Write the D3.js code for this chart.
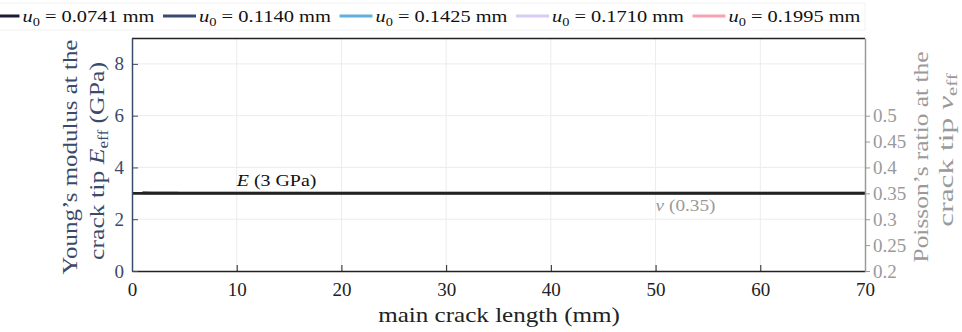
<!DOCTYPE html>
<html>
<head>
<meta charset="utf-8">
<script src="https://cdn.jsdelivr.net/npm/d3@7"></script>
<style>
  html, body { margin: 0; padding: 0; background: #fff; }
  svg { display: block; font-family: "Liberation Serif", "DejaVu Serif", serif; }
</style>
</head>
<body>
<svg id="chart" width="962" height="332"></svg>
<script>
// Displacement amplitudes (mm) for each loading case
const u0Values = [0.0741, 0.1140, 0.1425, 0.1710, 0.1995];
const seriesColors = ["#1d1b36", "#3a4a70", "#5fb0dc", "#d8ccf7", "#f7a3b4"];

// Effective Young's modulus at the crack tip (GPa) vs main crack length (mm)
const lengthA = [1.0, 2.0, 5.0, 10, 20, 30, 40, 50, 60, 70];
const modulusA = [3.00, 3.00, 3.00, 3.00, 3.00, 3.00, 3.00, 3.00, 3.00, 3.00];
const lengthB = [1.0, 2.0, 5.0, 10, 20, 30, 40, 50, 60, 70];
const modulusB = [3.05, 3.04, 3.04, 3.04, 3.04, 3.04, 3.04, 3.04, 3.04, 3.04];
const lengthC = [2.0, 3.0, 5.0, 10, 20, 30, 40, 50, 60, 70];
const modulusC = [3.04, 3.04, 3.04, 3.04, 3.04, 3.04, 3.04, 3.04, 3.04, 3.04];
const lengthD = [4.4, 6.0, 10, 20, 30, 40, 50, 60, 70];
const modulusD = [3.04, 3.04, 3.04, 3.04, 3.04, 3.04, 3.04, 3.04, 3.04];
const lengthE = [4.6, 6.0, 10, 20, 30, 40, 50, 60, 70];
const modulusE = [3.04, 3.04, 3.04, 3.04, 3.04, 3.04, 3.04, 3.04, 3.04];

const seriesLengths = [lengthA, lengthB, lengthC, lengthD, lengthE];
const seriesModulus = [modulusA, modulusB, modulusC, modulusD, modulusE];

// Bulk material reference values
const refModulus = 3;      // GPa
const refPoisson = 0.35;

// Tick values
const xTicks = [0, 10, 20, 30, 40, 50, 60, 70];
const leftTicks = [0, 2, 4, 6, 8];
const rightTicks = [0.2, 0.25, 0.3, 0.35, 0.4, 0.45, 0.5];

const svg = d3.select("#chart");
const plotL = 132, plotR = 865, plotT = 38, plotB = 271;

const x = d3.scaleLinear().domain([0, 70]).range([plotL, plotR]);
const yL = d3.scaleLinear().domain([0, 9]).range([plotB, plotT]);
const yR = d3.scaleLinear().domain([0.2, 0.65]).range([plotB, plotT]);

const slate = "#3b4a6b", grey = "#9a9a9a", ink = "#222";
const tickFont = 19;

// Places a text at (tx, ty) with optional rotation and widens it to a set width,
// so the serif face runs as wide as the TeX-style lettering.
function label(tx, ty, rot, anchor, size, fill, width, build) {
  const g = svg.append("g").attr("transform", `translate(${tx},${ty}) rotate(${rot})`);
  const t = g.append("text").attr("x", 0).attr("y", 0)
    .attr("text-anchor", anchor).attr("font-size", size).attr("fill", fill);
  build(t);
  const w = t.node().getBBox().width;
  if (w > 0) t.attr("transform", `scale(${width / w},1)`);
  return t;
}

// grid
const grid = svg.append("g");
grid.selectAll("line.vx").data(xTicks.slice(1, -1)).join("line")
  .attr("x1", d => x(d)).attr("x2", d => x(d)).attr("y1", plotT).attr("y2", plotB)
  .attr("stroke", "#ececec").attr("stroke-width", 1);
grid.selectAll("line.hy").data(leftTicks.slice(1)).join("line")
  .attr("x1", plotL).attr("x2", plotR).attr("y1", d => yL(d)).attr("y2", d => yL(d))
  .attr("stroke", "#ececec").attr("stroke-width", 1);

// data curves
const line = d3.line().x(d => x(d[0])).y(d => yL(d[1]));
seriesLengths.forEach((xs, i) => {
  const pts = xs.map((v, k) => [v, seriesModulus[i][k]]);
  svg.append("path").datum(pts).attr("d", line)
    .attr("fill", "none").attr("stroke", seriesColors[i]).attr("stroke-width", 1.6);
});

// reference lines
svg.append("line").attr("x1", x(0)).attr("x2", x(70))
  .attr("y1", yR(refPoisson)).attr("y2", yR(refPoisson))
  .attr("stroke", grey).attr("stroke-width", 1.5);
svg.append("line").attr("x1", x(0)).attr("x2", x(70))
  .attr("y1", yL(refModulus)).attr("y2", yL(refModulus))
  .attr("stroke", ink).attr("stroke-width", 2.6);

// annotations
label(x(10), yL(refModulus) - 7, 0, "start", 17, "#111", 81, t => {
  t.append("tspan").attr("font-style", "italic").text("E");
  t.append("tspan").text(" (3 GPa)");
});
label(x(50), yR(refPoisson) + 18, 0, "start", 17, grey, 60, t => {
  t.append("tspan").attr("font-style", "italic").text("ν");
  t.append("tspan").text(" (0.35)");
});

// frame top
svg.append("line").attr("x1", plotL).attr("x2", plotR).attr("y1", plotT + 0.5).attr("y2", plotT + 0.5)
  .attr("stroke", ink).attr("stroke-width", 1.5);

// bottom axis
const gx = svg.append("g").attr("transform", `translate(0,${plotB})`)
  .call(d3.axisBottom(x).tickValues(xTicks).tickSizeInner(-6).tickSizeOuter(0).tickPadding(12));
gx.select(".domain").attr("stroke", ink).attr("stroke-width", 1.5);
gx.selectAll(".tick line").attr("stroke", ink);
gx.selectAll(".tick text").attr("font-size", tickFont).attr("fill", ink)
  .attr("font-family", "Liberation Serif");

// left axis
const gl = svg.append("g").attr("transform", `translate(${plotL},0)`)
  .call(d3.axisLeft(yL).tickValues(leftTicks).tickSizeInner(-6).tickSizeOuter(0).tickPadding(8));
gl.select(".domain").attr("stroke", slate).attr("stroke-width", 1.5);
gl.selectAll(".tick line").attr("stroke", slate);
gl.selectAll(".tick text").attr("font-size", tickFont).attr("fill", slate)
  .attr("font-family", "Liberation Serif");

// right axis
const gr = svg.append("g").attr("transform", `translate(${plotR},0)`)
  .call(d3.axisRight(yR).tickValues(rightTicks).tickSizeInner(5).tickSizeOuter(0).tickPadding(3)
    .tickFormat(d3.format("~g")));
gr.select(".domain").attr("stroke", grey).attr("stroke-width", 1.5);
gr.selectAll(".tick line").attr("stroke", grey);
gr.selectAll(".tick text").attr("font-size", tickFont).attr("fill", grey)
  .attr("font-family", "Liberation Serif");

// axis titles
label(499, 322, 0, "middle", 21, ink, 242, t => t.text("main crack length (mm)"));

label(77, 157, -90, "middle", 21, slate, 235, t => t.text("Young’s modulus at the"));
label(104, 161, -90, "middle", 21, slate, 198, t => {
  t.append("tspan").text("crack tip ");
  t.append("tspan").attr("font-style", "italic").text("E");
  t.append("tspan").attr("font-size", 14).attr("dy", 4).text("eff");
  t.append("tspan").attr("dy", -4).text(" (GPa)");
});

label(928, 157, -90, "middle", 21, grey, 211, t => t.text("Poisson’s ratio at the"));
label(953, 150, -90, "middle", 21, grey, 154, t => {
  t.append("tspan").text("crack tip ");
  t.append("tspan").attr("font-style", "italic").text("ν");
  t.append("tspan").attr("font-size", 14).attr("dy", 4).text("eff");
});

// legend
const legend = svg.append("g");
legend.append("rect").attr("x", -2).attr("y", 3).attr("width", 867).attr("height", 27)
  .attr("fill", "#fff").attr("stroke", "#f2f2f2");
u0Values.forEach((u, i) => {
  const sx = -13.5 + i * 176.5;
  legend.append("line").attr("x1", sx).attr("x2", sx + 33).attr("y1", 16).attr("y2", 16)
    .attr("stroke", seriesColors[i]).attr("stroke-width", 3);
  label(sx + 36, 22, 0, "start", 17, "#111", 132, t => {
    t.append("tspan").attr("font-style", "italic").text("u");
    t.append("tspan").attr("font-size", 12).attr("dy", 4).text("0");
    t.append("tspan").attr("dy", -4).text(" = " + u.toFixed(4) + " mm");
  });
});
</script>
</body>
</html>
